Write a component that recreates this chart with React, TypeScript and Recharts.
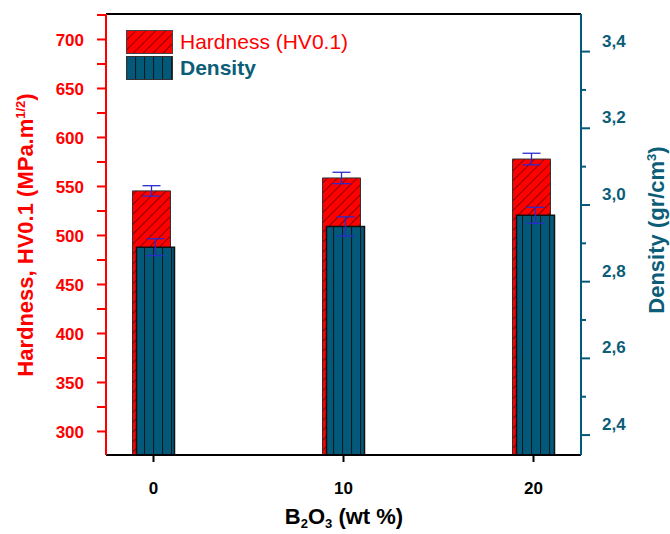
import { Bar, BarChart, ErrorBar, Legend, XAxis, YAxis } from 'recharts'

const categories = [0, 10, 20]
const hardness = [545.5, 558.7, 578]
const hardnessErr = [5.3, 5.8, 5.9]
const density = [2.89, 2.944, 2.973]
const densityErr = [0.022, 0.025, 0.021]
const xTicks = [0, 10, 20]
const hardnessTicks = [300, 325, 350, 375, 400, 425, 450, 475, 500, 525, 550, 575, 600, 625, 650, 675, 700, 725]
const densityTicks = [2.4, 2.5, 2.6, 2.7, 2.8, 2.9, 3.0, 3.1, 3.2, 3.3, 3.4]
const seriesNames = ['Hardness (HV0.1)', 'Density']

const RED = '#ff0000'
const TEAL = '#02597a'
const TEAL_TEXT = '#0b5d78'
const FONT = '"Liberation Sans", Arial, sans-serif'

const data = categories.map((wt, i) => ({
  wt,
  hardness: hardness[i],
  hErr: hardnessErr[i],
  density: density[i],
  dErr: densityErr[i],
}))

function Patterns() {
  return (
    <defs>
      <pattern id="hatchRed" patternUnits="userSpaceOnUse" width="7" height="7" patternTransform="rotate(45)">
        <rect width="7" height="7" fill={RED} />
        <line x1="0" y1="0" x2="0" y2="7" stroke="#3a0000" strokeWidth="1.2" />
      </pattern>
      <pattern id="vertTeal" patternUnits="userSpaceOnUse" width="9" height="9">
        <rect width="9" height="9" fill={TEAL} />
        <line x1="0.5" y1="0" x2="0.5" y2="9" stroke="#0a1a20" strokeWidth="1.2" />
      </pattern>
    </defs>
  )
}

function DensityTick(props: any) {
  const { x, y, payload } = props
  const v = payload.value as number
  const major = Math.round(v * 10) % 2 === 0
  const axisX = x - 21
  return (
    <g>
      <line x1={axisX} x2={axisX + (major ? 9 : 5)} y1={y} y2={y} stroke={TEAL} strokeWidth={2} />
      {major && (
        <text x={x} y={y - 11} dy="0.355em" textAnchor="start" fill={TEAL_TEXT} fontSize={17} fontWeight="bold" fontFamily={FONT}>
          {v.toFixed(1).replace('.', ',')}
        </text>
      )}
    </g>
  )
}

function LeftTitle() {
  return (
    <text transform="translate(33,235) rotate(-90)" textAnchor="middle" fill={RED} fontSize={22} fontWeight="bold" fontFamily={FONT}>
      Hardness, HV0.1 (MPa.m
      <tspan dy={-8} fontSize={13}>1/2</tspan>
      <tspan dy={8}>)</tspan>
    </text>
  )
}

function RightTitle() {
  return (
    <text transform="translate(664,230) rotate(-90)" textAnchor="middle" fill={TEAL_TEXT} fontSize={22} fontWeight="bold" fontFamily={FONT}>
      Density (gr/cm
      <tspan dy={-8} fontSize={13}>3</tspan>
      <tspan dy={8}>)</tspan>
    </text>
  )
}

function BottomTitle() {
  return (
    <text x={344} y={524} textAnchor="middle" fill="#000" fontSize={22} fontWeight="bold" fontFamily={FONT}>
      B<tspan dy={4} fontSize={13}>2</tspan>
      <tspan dy={-4}>O</tspan>
      <tspan dy={4} fontSize={13}>3</tspan>
      <tspan dy={-4}> (wt %)</tspan>
    </text>
  )
}

function LegendBox() {
  const swatch = (fill: string, stroke: string) => (
    <svg width={47} height={24} style={{ display: 'block' }}>
      <rect x={0.5} y={0.5} width={46} height={23} fill={fill} stroke={stroke} strokeWidth={1} />
    </svg>
  )
  return (
    <div style={{ fontFamily: FONT, fontSize: 21, lineHeight: '24px' }}>
      <div style={{ display: 'flex', alignItems: 'center', height: 24, marginBottom: 2 }}>
        {swatch('url(#hatchRed)', '#444')}
        <span style={{ color: RED, marginLeft: 7 }}>{seriesNames[0]}</span>
      </div>
      <div style={{ display: 'flex', alignItems: 'center', height: 24 }}>
        {swatch('url(#vertTeal)', '#333')}
        <span style={{ color: TEAL_TEXT, marginLeft: 7, fontWeight: 'bold' }}>{seriesNames[1]}</span>
      </div>
    </div>
  )
}

export default function App() {
  return (
    <div style={{ position: 'absolute', left: 0, top: 0, background: '#fff' }}>
      <BarChart
        width={670}
        height={534}
        data={data}
        margin={{ top: 13, right: 29, left: 46, bottom: 39 }}
        barGap={-34}
      >
        <Patterns />
        <XAxis
          xAxisId={0}
          dataKey="wt"
          type="number"
          domain={[-2.5, 22.5]}
          ticks={xTicks}
          interval={0}
          height={40}
          stroke="#000"
          axisLine={{ stroke: '#000', strokeWidth: 2 }}
          tickLine={{ stroke: '#000', strokeWidth: 2 }}
          tickSize={7}
          tickMargin={20}
          tick={{ fill: '#000', fontSize: 17, fontWeight: 'bold', fontFamily: FONT }}
          label={<BottomTitle />}
        />
        <XAxis
          xAxisId="top"
          orientation="top"
          dataKey="wt"
          type="number"
          domain={[-2.5, 22.5]}
          height={1}
          tick={false}
          tickLine={false}
          axisLine={{ stroke: '#000', strokeWidth: 2 }}
        />
        <YAxis
          yAxisId="left"
          domain={[276, 726]}
          ticks={hardnessTicks}
          interval={0}
          width={60}
          axisLine={{ stroke: RED, strokeWidth: 2 }}
          tickLine={{ stroke: RED, strokeWidth: 2 }}
          tickSize={9}
          tickMargin={13}
          tickFormatter={(v: number) => (v % 50 === 0 ? String(v) : '')}
          tick={{ fill: RED, fontSize: 17, fontWeight: 'bold', fontFamily: FONT }}
          label={<LeftTitle />}
        />
        <YAxis
          yAxisId="right"
          orientation="right"
          domain={[2.348, 3.498]}
          ticks={densityTicks}
          interval={0}
          width={60}
          axisLine={{ stroke: TEAL, strokeWidth: 2 }}
          tickLine={false}
          tickSize={9}
          tickMargin={12}
          tick={<DensityTick />}
          label={<RightTitle />}
        />
        <Legend
          layout="vertical"
          align="center"
          verticalAlign="middle"
          wrapperStyle={{ position: 'absolute', left: 126, top: 30, width: 260, height: 52 }}
          content={() => <LegendBox />}
        />
        <Bar
          yAxisId="left"
          dataKey="hardness"
          name={seriesNames[0]}
          barSize={38}
          fill="url(#hatchRed)"
          stroke="#333"
          strokeWidth={1}
          isAnimationActive={false}
        >
          <ErrorBar dataKey="hErr" width={9} stroke="#2b2bcc" strokeWidth={1.3} isAnimationActive={false} />
        </Bar>
        <Bar
          yAxisId="right"
          dataKey="density"
          name={seriesNames[1]}
          barSize={38}
          fill="url(#vertTeal)"
          stroke="#111"
          strokeWidth={1.5}
          isAnimationActive={false}
        >
          <ErrorBar dataKey="dErr" width={9} stroke="#2b2bcc" strokeWidth={1.3} isAnimationActive={false} />
        </Bar>
      </BarChart>
    </div>
  )
}
